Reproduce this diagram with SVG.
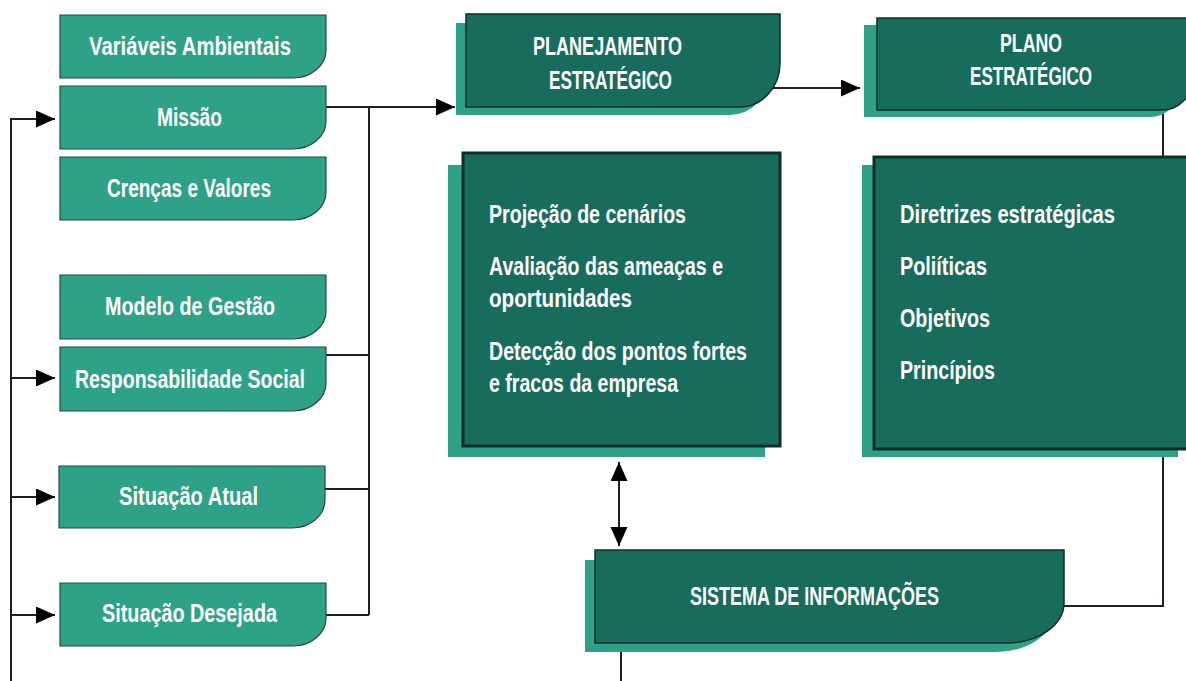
<svg xmlns="http://www.w3.org/2000/svg" width="1186" height="681" viewBox="0 0 1186 681">
<style>
.lb{fill:#2ea287;stroke:#1e4d41;stroke-width:1.2}
.sh{fill:#2ea287;stroke:none}
.dk{fill:#186c5c;stroke:#0f2e26;stroke-width:1.5}
.dkb{fill:#186c5c;stroke:#0f2e26;stroke-width:3}
.t{fill:#ffffff;font-family:"Liberation Sans Narrow","Liberation Sans",Arial,sans-serif;font-weight:bold;font-size:25.5px}
.c{fill:none;stroke:#231f20;stroke-width:2}
</style>
<defs>
<marker id="ah" markerUnits="userSpaceOnUse" markerWidth="20" markerHeight="18" refX="19" refY="8.5" orient="auto-start-reverse">
<path d="M0 0 L19 8.5 L0 17 Z" fill="#000"/>
</marker>
</defs>
<g id="connectors">
<path class="c" d="M11 681 V119 H55" marker-end="url(#ah)"/>
<path class="c" d="M11 378 H55" marker-end="url(#ah)"/>
<path class="c" d="M11 497 H55" marker-end="url(#ah)"/>
<path class="c" d="M11 615 H55" marker-end="url(#ah)"/>
<path class="c" d="M326 107 H455" marker-end="url(#ah)"/>
<path class="c" d="M369 107 V615"/>
<path class="c" d="M326 355 H369"/>
<path class="c" d="M325 489 H369"/>
<path class="c" d="M326 615 H369"/>
<path class="c" d="M773 88 H860" marker-end="url(#ah)"/>
<path class="c" d="M1163 108 V157"/>
<path class="c" d="M1163 449 V606 H1064"/>
<path class="c" d="M619 462 V546" marker-start="url(#ah)" marker-end="url(#ah)"/>
<path class="c" d="M621 643 V681"/>
</g>
<g id="variaveis">
<path class="lb" d="M60 15 H326 V50 A33 28 0 0 1 293 78 H60 Z"/>
<text class="t" x="89" y="55" textLength="202" lengthAdjust="spacingAndGlyphs">Variáveis Ambientais</text>
</g>
<g id="missao">
<path class="lb" d="M60 86 H326 V121 A33 28 0 0 1 293 149 H60 Z"/>
<text class="t" x="157" y="126" textLength="65" lengthAdjust="spacingAndGlyphs">Missão</text>
</g>
<g id="crencas">
<path class="lb" d="M60 157 H326 V192 A33 28 0 0 1 293 220 H60 Z"/>
<text class="t" x="107" y="197" textLength="164" lengthAdjust="spacingAndGlyphs">Crenças e Valores</text>
</g>
<g id="modelo">
<path class="lb" d="M60 275 H326 V311 A33 28 0 0 1 293 339 H60 Z"/>
<text class="t" x="105" y="315" textLength="170" lengthAdjust="spacingAndGlyphs">Modelo de Gestão</text>
</g>
<g id="responsabilidade">
<path class="lb" d="M60 347 H326 V383 A33 28 0 0 1 293 411 H60 Z"/>
<text class="t" x="75" y="388" textLength="230" lengthAdjust="spacingAndGlyphs">Responsabilidade Social</text>
</g>
<g id="atual">
<path class="lb" d="M59 466 H325 V500 A33 28 0 0 1 292 528 H59 Z"/>
<text class="t" x="119" y="505" textLength="139" lengthAdjust="spacingAndGlyphs">Situação Atual</text>
</g>
<g id="desejada">
<path class="lb" d="M60 583 H326 V618 A33 28 0 0 1 293 646 H60 Z"/>
<text class="t" x="102" y="622" textLength="175" lengthAdjust="spacingAndGlyphs">Situação Desejada</text>
</g>
<g id="planejamento">
<path class="sh" d="M456 23 H770 V72 A40 44 0 0 1 730 115 H456 Z"/>
<path class="dk" d="M466 14 H780 V63 A40 44 0 0 1 740 107 H466 Z"/>
<text class="t" x="533" y="55" textLength="149" lengthAdjust="spacingAndGlyphs">PLANEJAMENTO</text>
<text class="t" x="549" y="89" textLength="123" lengthAdjust="spacingAndGlyphs">ESTRATÉGICO</text>
</g>
<g id="plano">
<path class="sh" d="M864 25 H1180 V87 A30 30 0 0 1 1150 117 H864 Z"/>
<path class="dk" d="M877 18 H1192 V80 A30 30 0 0 1 1162 110 H877 Z"/>
<text class="t" x="1000" y="52" textLength="62" lengthAdjust="spacingAndGlyphs">PLANO</text>
<text class="t" x="970" y="85" textLength="122" lengthAdjust="spacingAndGlyphs">ESTRATÉGICO</text>
</g>
<g id="analise">
<rect class="sh" x="448" y="165" width="317" height="292"/>
<rect class="dkb" x="463" y="153" width="317" height="293"/>
<text class="t" x="489" y="223" textLength="197" lengthAdjust="spacingAndGlyphs">Projeção de cenários</text>
<text class="t" x="489" y="275" textLength="234" lengthAdjust="spacingAndGlyphs">Avaliação das ameaças e</text>
<text class="t" x="489" y="307" textLength="143" lengthAdjust="spacingAndGlyphs">oportunidades</text>
<text class="t" x="489" y="360" textLength="258" lengthAdjust="spacingAndGlyphs">Detecção dos pontos fortes</text>
<text class="t" x="489" y="392" textLength="189" lengthAdjust="spacingAndGlyphs">e fracos da empresa</text>
</g>
<g id="diretrizes">
<rect class="sh" x="862" y="165" width="316" height="292"/>
<rect class="dkb" x="874" y="157" width="320" height="292"/>
<text class="t" x="900" y="223" textLength="215" lengthAdjust="spacingAndGlyphs">Diretrizes estratégicas</text>
<text class="t" x="900" y="275" textLength="87" lengthAdjust="spacingAndGlyphs">Poliíticas</text>
<text class="t" x="900" y="327" textLength="90" lengthAdjust="spacingAndGlyphs">Objetivos</text>
<text class="t" x="900" y="379" textLength="95" lengthAdjust="spacingAndGlyphs">Princípios</text>
</g>
<g id="sistema">
<path class="sh" d="M585 560 H1054 V612 A58 40 0 0 1 996 652 H585 Z"/>
<path class="dk" d="M595 550 H1064 V603 A58 40 0 0 1 1006 643 H595 Z"/>
<text class="t" x="690" y="605" textLength="249" lengthAdjust="spacingAndGlyphs">SISTEMA DE INFORMAÇÕES</text>
</g>
</svg>
